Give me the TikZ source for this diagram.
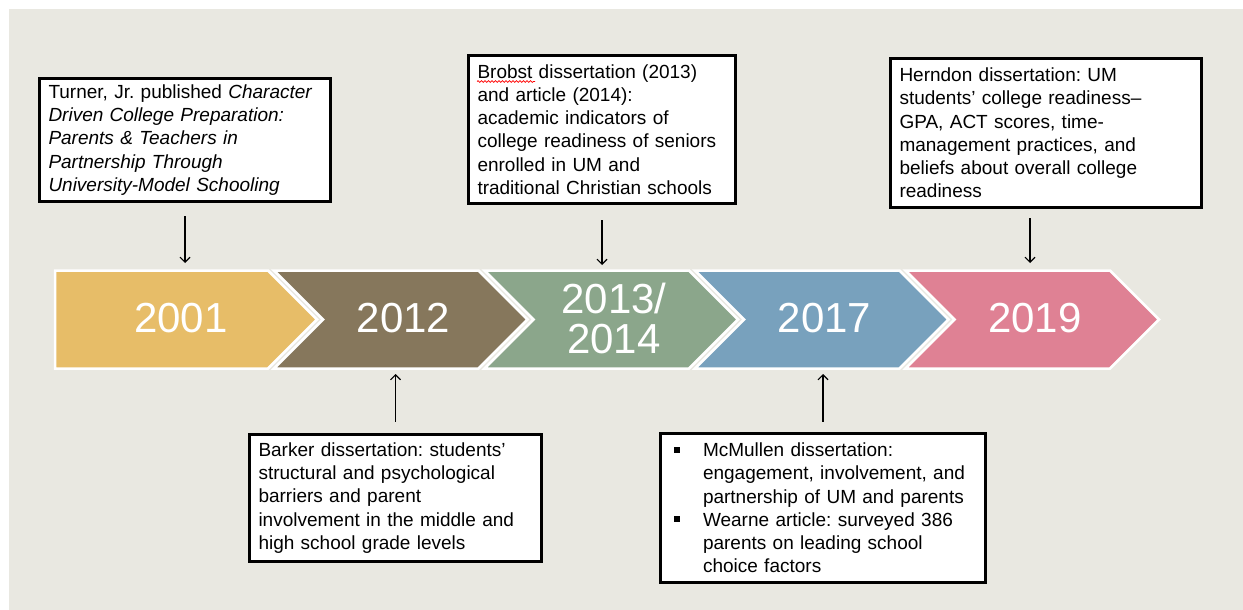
\documentclass[tikz,border=0pt]{standalone}
\usepackage{fontspec}
\setmainfont{Liberation Sans}
\usetikzlibrary{arrows.meta,decorations.pathmorphing}
\frenchspacing

\definecolor{panel}{HTML}{E9E8E1}
\definecolor{cgold}{HTML}{E7BD68}
\definecolor{cbrown}{HTML}{86775C}
\definecolor{cgreen}{HTML}{8BA68B}
\definecolor{cblue}{HTML}{78A1BD}
\definecolor{cpink}{HTML}{DF8194}

\begin{document}
\begin{tikzpicture}[x=1pt,y=1pt,
  box/.style={draw=black, line width=3.4pt, fill=white, rectangle,
    inner xsep=9pt, inner ysep=0pt, align=left, text=black,
    font=\frenchspacing\fontsize{19}{23.2}\selectfont},
  yearlbl/.style={text=white, inner sep=0pt, align=center,
    font=\fontsize{42}{40}\selectfont},
  chev/.style={draw=white, line width=2.5pt, line join=miter},
  conn/.style={draw=black, line width=1.1pt,
    -{Straight Barb[length=5pt,width=10pt]}}]

% canvas
\useasboundingbox (0,0) rectangle (1243,-610);
\fill[white] (0,0) rectangle (1243,-610);
\fill[panel] (9,-9) rectangle (1243,-610);

% timeline chevrons
\path[chev, fill=cgold]  (55,-270.5) -- (268,-270.5) -- (317,-319.5) -- (268,-368.5) -- (55,-368.5) -- cycle;
\path[chev, fill=cbrown] (274,-270.5) -- (478.5,-270.5) -- (527.5,-319.5) -- (478.5,-368.5) -- (274,-368.5) -- (323,-319.5) -- cycle;
\path[chev, fill=cgreen] (484.5,-270.5) -- (689,-270.5) -- (738,-319.5) -- (689,-368.5) -- (484.5,-368.5) -- (533.5,-319.5) -- cycle;
\path[chev, fill=cblue]  (695,-270.5) -- (899.5,-270.5) -- (948.5,-319.5) -- (899.5,-368.5) -- (695,-368.5) -- (744,-319.5) -- cycle;
\path[chev, fill=cpink]  (905.5,-270.5) -- (1110,-270.5) -- (1159,-319.5) -- (1110,-368.5) -- (905.5,-368.5) -- (954.5,-319.5) -- cycle;

% year labels
\node[yearlbl] (y2001) at (181,-318) {2001};
\node[yearlbl] (y2012) at (403.5,-318) {2012};
\node[yearlbl] (y2013) at (614,-318) {2013/\\2014};
\node[yearlbl] (y2017) at (824.5,-318) {2017};
\node[yearlbl] (y2019) at (1035,-318) {2019};

% connector ends on the chevron edges
\coordinate (c1top) at (185,-263);
\coordinate (c3top) at (602,-265);
\coordinate (c5top) at (1030,-263);
\coordinate (c2bot) at (395.5,-374);
\coordinate (c4bot) at (823,-374);

% events above the timeline
\node[box, minimum width=291pt, minimum height=123pt, text width=273pt] (b1) at (185,-140)
  {Turner, Jr. published \textit{Character}\\
   \textit{Driven College Preparation:}\\
   \textit{Parents \& Teachers in}\\
   \textit{Partnership Through}\\
   \textit{University-Model Schooling}};

\node[box, minimum width=267pt, minimum height=148pt, text width=249pt] (b2) at (602,-129.5)
  {Brobst dissertation (2013)\\
   and article (2014):\\
   academic indicators of\\
   college readiness of seniors\\
   enrolled in UM and\\
   traditional Christian schools};
\draw[red, line width=0.7pt, decorate, decoration={snake, amplitude=0.9pt, segment length=3.5pt}]
  (477,-81.5) -- (535,-81.5);

\node[box, minimum width=311pt, minimum height=149pt, text width=293pt] (b3) at (1046,-133)
  {Herndon dissertation: UM\\
   students’ college readiness–\\
   GPA, ACT scores, time-\\
   management practices, and\\
   beliefs about overall college\\
   readiness};

% events below the timeline
\node[box, minimum width=292pt, minimum height=127pt, text width=274pt] (b4) at (395.5,-498)
  {Barker dissertation: students’\\
   structural and psychological\\
   barriers and parent\\
   involvement in the middle and\\
   high school grade levels};

\node[box, minimum width=325pt, minimum height=149pt, text width=307pt] (b5) at (823,-508)
  {\hspace*{4.5pt}\rule[4pt]{6pt}{6pt}\hspace{23pt}McMullen dissertation:\\
   \hspace*{33.5pt}engagement, involvement, and\\
   \hspace*{33.5pt}partnership of UM and parents\\
   \hspace*{4.5pt}\rule[4pt]{6pt}{6pt}\hspace{23pt}Wearne article: surveyed 386\\
   \hspace*{33.5pt}parents on leading school\\
   \hspace*{33.5pt}choice factors};

% connectors
\draw[conn] ([yshift=-13pt]b1.south) -- (c1top);
\draw[conn] ([yshift=-15pt]b2.south) -- (c3top);
\draw[conn] ([xshift=-16pt,yshift=-9pt]b3.south) -- (c5top);
\draw[conn] ([yshift=11pt]b4.north) -- (c2bot);
\draw[conn] ([yshift=10pt]b5.north) -- (c4bot);
\end{tikzpicture}
\end{document}
